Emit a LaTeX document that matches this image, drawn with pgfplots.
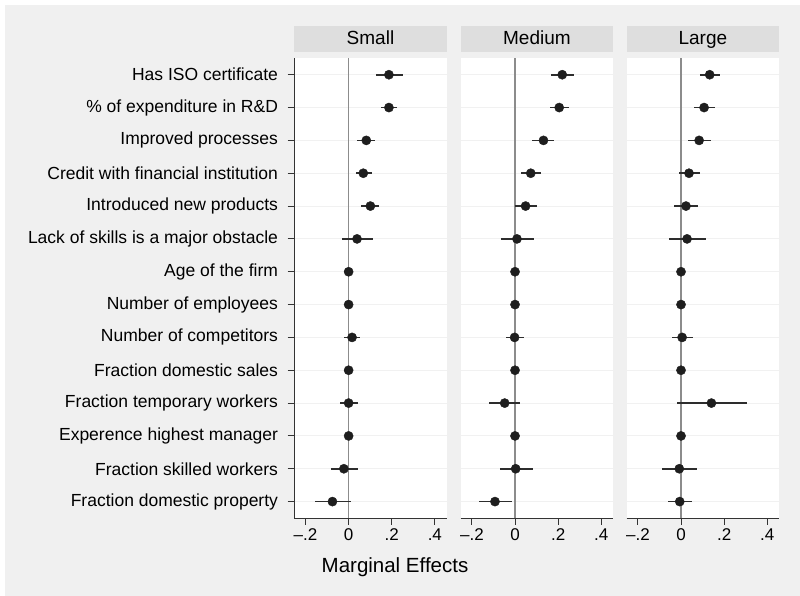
\documentclass[border=0pt]{standalone}
\usepackage{fontspec}
\setmainfont{Liberation Sans}
\usepackage{pgfplots}
\usepackage{pgfplotstable}
\pgfplotsset{compat=1.18}

\definecolor{bgc}{RGB}{240,240,240}
\definecolor{stripc}{RGB}{222,222,222}
\definecolor{gridc}{RGB}{241,241,241}
\definecolor{zeroc}{RGB}{140,140,140}
\definecolor{ptc}{RGB}{30,30,30}
\definecolor{cic}{RGB}{45,45,45}

% row b lo hi
\pgfplotstableread{
row b lo hi
1 0.187 0.126 0.251
2 0.187 0.152 0.225
3 0.082 0.040 0.124
4 0.068 0.032 0.107
5 0.101 0.059 0.142
6 0.039 -0.031 0.111
7 0 0 0
8 0 0 0
9 0.016 -0.020 0.051
10 0 0 0
11 0.000 -0.039 0.043
12 0 0 0
13 -0.022 -0.081 0.042
14 -0.075 -0.157 0.011
}\small

\pgfplotstableread{
row b lo hi
1 0.219 0.166 0.274
2 0.205 0.161 0.249
3 0.132 0.080 0.183
4 0.073 0.026 0.119
5 0.049 -0.002 0.102
6 0.009 -0.064 0.087
7 0 0 0
8 0 0 0
9 -0.002 -0.044 0.043
10 0 0 0
11 -0.048 -0.120 0.023
12 0 0 0
13 0.003 -0.072 0.082
14 -0.093 -0.165 -0.016
}\medium

\pgfplotstableread{
row b lo hi
1 0.133 0.089 0.181
2 0.107 0.060 0.157
3 0.084 0.031 0.140
4 0.037 -0.011 0.088
5 0.023 -0.033 0.081
6 0.028 -0.054 0.115
7 0 0 0
8 0 0 0
9 0.005 -0.042 0.056
10 0 0 0
11 0.141 -0.021 0.306
12 0 0 0
13 -0.008 -0.088 0.073
14 -0.006 -0.060 0.051
}\large

\pgfplotsset{
  panel/.style={
    scale only axis,
    width=152.4pt, height=459.7pt,
    anchor=north west,
    xmin=-0.252, xmax=0.455,
    ymin=0.5, ymax=14.5,
    y dir=reverse,
    axis background/.style={fill=white},
    axis x line*=bottom, axis y line*=left,
    axis line style={black!80, line width=0.9pt},
    xtick={-0.2,0,0.2,0.4},
    xticklabels={–.2,0,.2,.4},
    ytick={1,...,14},
    tick align=outside,
    major tick length=6.8pt,
    tick style={black!80, line width=0.9pt},
    ymajorgrids,
    major grid style={gridc, line width=1pt},
    ticklabel style={font=\fontsize{17}{20}\selectfont},
    yticklabel style={font=\fontsize{17.5}{20}\selectfont, xshift=-6pt},
    title style={at={(0.5,1)}, anchor=south, fill=stripc,
      minimum width=152.4pt, minimum height=26pt, inner sep=0pt,
      text height=14pt, text depth=4pt,
      font=\fontsize{19}{22}\selectfont},
    clip=false,
  },
  ci/.style={
    ptc, only marks, mark=*, mark size=4.6pt,
    error bars/.cd, x dir=both, x explicit, error mark=none,
    error bar style={line width=1.6pt, cic},
  },
}

\begin{document}
\begin{tikzpicture}
\useasboundingbox (0,0) rectangle (800pt,-596pt);
\fill[white] (0,0) rectangle (800pt,-596pt);
\fill[bgc] (5pt,-5pt) rectangle (800pt,-596pt);

\begin{axis}[panel, at={(294.3pt,-58.3pt)}, title={Small},
  yticklabels={Has ISO certificate, \% of expenditure in R\&D, Improved processes,
    Credit with financial institution, Introduced new products,
    Lack of skills is a major obstacle, Age of the firm, Number of employees,
    Number of competitors, Fraction domestic sales, Fraction temporary workers,
    Experence highest manager, Fraction skilled workers, Fraction domestic property},
]
\draw[zeroc, line width=1.3pt] (axis cs:0,0.5) -- (axis cs:0,14.5);
\addplot[ci] table[x=b, y=row, x error minus expr=\thisrow{b}-\thisrow{lo},
  x error plus expr=\thisrow{hi}-\thisrow{b}] {\small};
\end{axis}

\begin{axis}[panel, at={(460.7pt,-58.3pt)}, title={Medium},
  yticklabels={}, y axis line style={draw=none}, ytick style={draw=none}]
\draw[zeroc, line width=1.3pt] (axis cs:0,0.5) -- (axis cs:0,14.5);
\addplot[ci] table[x=b, y=row, x error minus expr=\thisrow{b}-\thisrow{lo},
  x error plus expr=\thisrow{hi}-\thisrow{b}] {\medium};
\end{axis}

\begin{axis}[panel, at={(626.7pt,-58.3pt)}, title={Large},
  yticklabels={}, y axis line style={draw=none}, ytick style={draw=none}]
\draw[zeroc, line width=1.3pt] (axis cs:0,0.5) -- (axis cs:0,14.5);
\addplot[ci] table[x=b, y=row, x error minus expr=\thisrow{b}-\thisrow{lo},
  x error plus expr=\thisrow{hi}-\thisrow{b}] {\large};
\end{axis}

\node[anchor=base, font=\fontsize{20.5}{24}\selectfont] at (395pt,-572.7pt) {Marginal Effects};
\end{tikzpicture}
\end{document}
